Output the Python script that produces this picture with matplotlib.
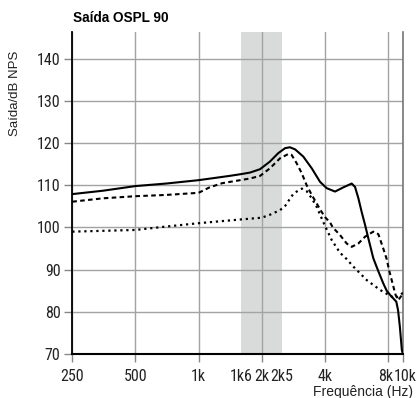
import matplotlib
matplotlib.use("Agg")
import matplotlib.pyplot as plt
import matplotlib.font_manager as fm
from matplotlib.ticker import FixedLocator, FixedFormatter
from matplotlib.transforms import ScaledTranslation

# ---------------- data ----------------
solid_f = [250, 350, 500, 700, 1000, 1400, 1580, 1760, 1965, 2190, 2400, 2590, 2730, 2890, 3160, 3470,
           3800, 4090, 4480, 4910, 5380, 5580, 5790, 6000, 6230, 6460, 6820, 7210, 7600, 7900, 8200,
           8780, 8950, 9130, 9330, 9430]
solid_v = [107.9, 108.7, 109.8, 110.4, 111.2, 112.2, 112.6, 113.0, 113.8, 115.6, 117.6, 118.8, 119.0, 118.5, 116.8, 114.0,
           110.8, 109.3, 108.5, 109.5, 110.4, 109.6, 106.9, 103.7, 100.6, 97.4, 92.7, 89.6, 86.8, 85.0, 84.0,
           82.4, 80.4, 76.5, 71.0, 70.0]

dashed_f = [250, 350, 500, 700, 1000, 1130, 1300, 1580, 1760, 1965, 2190, 2450, 2680, 2780, 2940, 3110, 3280,
            3470, 3660, 3800, 4000, 4240, 4370, 4730, 5090, 5380, 5790, 6230, 6820, 7210, 7610, 7900, 8100,
            8400, 8710, 8980, 9200, 9450]
dashed_v = [106.1, 106.9, 107.4, 107.7, 108.2, 109.5, 110.5, 111.2, 111.6, 112.2, 114.0, 116.4, 117.4, 117.2, 115.2, 112.8, 110.0,
            107.7, 105.7, 104.3, 102.5, 101.2, 100.0, 98.2, 96.2, 95.4, 96.2, 97.8, 99.0, 98.4, 95.0, 92.5, 90.0,
            87.0, 84.0, 82.8, 83.5, 84.6]

dotted_f = [250, 500, 700, 1000, 1600, 2000, 2190, 2450, 2600, 2730, 2830, 2940, 3110, 3280, 3470, 3660,
            4000, 4320, 4730, 5090, 5480, 6350, 7340, 8200, 8700, 9450]
dotted_v = [99.0, 99.4, 100.2, 101.0, 101.9, 102.3, 103.0, 104.1, 105.2, 106.8, 107.9, 108.5, 109.2, 108.6, 106.9, 104.9,
            100.5, 97.0, 94.0, 92.5, 90.7, 87.5, 85.2, 83.8, 83.2, 84.5]

band = [1600, 2500]
x_major = [250, 500, 1000, 2000, 4000, 8000, 9450]
x_major_labels = ["250", "500", "1k", "2k", "4k", "8k", "10k"]
x_minor = [1600, 2500]
x_minor_labels = ["1k6", "2k5"]
y_ticks = [70, 80, 90, 100, 110, 120, 130, 140]

title = "Saída OSPL 90"
ylabel = "Saída/dB NPS"
xlabel = "Frequência (Hz)"

# ---------------- fonts ----------------
available = {f.name for f in fm.fontManager.ttflist}
narrow = None
for cand in ['Liberation Sans Narrow', 'Roboto Condensed', 'Open Sans Condensed', 'DejaVu Sans Condensed']:
    if cand in available:
        narrow = cand
        break
if narrow:
    tick_family = [narrow, 'DejaVu Sans']
    tick_size = 11.5
else:
    tick_family = ['Liberation Sans', 'DejaVu Sans']
    tick_size = 10.3

plt.rcParams['font.family'] = ['Liberation Sans', 'DejaVu Sans']

# ---------------- plot ----------------
fig = plt.figure(figsize=(4.17, 3.98), dpi=100)
ax = fig.add_axes([0.1734, 0.1106, 0.9664 - 0.1734, 0.9204 - 0.1106])

ax.set_xscale('log')
ax.set_xlim(250, 9450)
ax.set_ylim(70, 146.4)

ax.axvspan(band[0], band[1], color='#d9dbdb', zorder=0.1, lw=0)

ax.plot(solid_f, solid_v, color='black', lw=1.5, zorder=3, solid_joinstyle='round')
ax.plot(dashed_f, dashed_v, color='black', lw=1.5, ls=(0, (2.2, 1.6)), zorder=3)
ax.plot(dotted_f, dotted_v, color='black', lw=1.6, ls=(0, (1.0, 1.7)), zorder=3)

ax.xaxis.set_major_locator(FixedLocator(x_major))
ax.xaxis.set_major_formatter(FixedFormatter(x_major_labels))
ax.xaxis.set_minor_locator(FixedLocator(x_minor))
ax.xaxis.set_minor_formatter(FixedFormatter(x_minor_labels))
ax.set_yticks(y_ticks)
ax.set_yticklabels([str(v) for v in y_ticks])

ax.set_axisbelow(True)
ax.grid(True, which='major', color='#a3a3a3', lw=1.0)

ax.tick_params(axis='both', which='major', direction='out', length=5.5, width=1,
               color='#888888', labelsize=tick_size, labelcolor='#222222')
ax.tick_params(axis='y', which='major', pad=3)
ax.tick_params(axis='x', which='major', pad=5)
ax.tick_params(axis='x', which='minor', length=0, labelsize=tick_size, labelcolor='#222222', pad=10.5)

for lab in ax.get_xticklabels(which='both'):
    lab.set_fontfamily(tick_family)
for lab in ax.get_yticklabels():
    lab.set_fontfamily(tick_family)
# separate "8k" and "10k" slightly, as in the reference
xl = ax.get_xticklabels()
xl[-1].set_transform(xl[-1].get_transform() + ScaledTranslation(2.5 / 100, 0, fig.dpi_scale_trans))
xl[-2].set_transform(xl[-2].get_transform() + ScaledTranslation(-2 / 100, 0, fig.dpi_scale_trans))

ax.spines['top'].set_visible(False)
ax.spines['left'].set_color('black')
ax.spines['left'].set_linewidth(1.3)
ax.spines['bottom'].set_color('black')
ax.spines['bottom'].set_linewidth(1.5)
ax.spines['right'].set_color('#777777')
ax.spines['right'].set_linewidth(1.2)

fig.text(73 / 417, 1 - 18 / 398, title, fontsize=9.8, fontweight='bold',
         ha='left', va='center', color='black')
fig.text(15 / 417, 1 - 93 / 398, ylabel, fontsize=9.5, rotation=90,
         ha='center', va='center', color='#222222')
fig.text(413 / 417, 1 - 392 / 398, xlabel, fontsize=10, ha='right', va='center', color='#222222')

fig.savefig('out.png', dpi=100)
